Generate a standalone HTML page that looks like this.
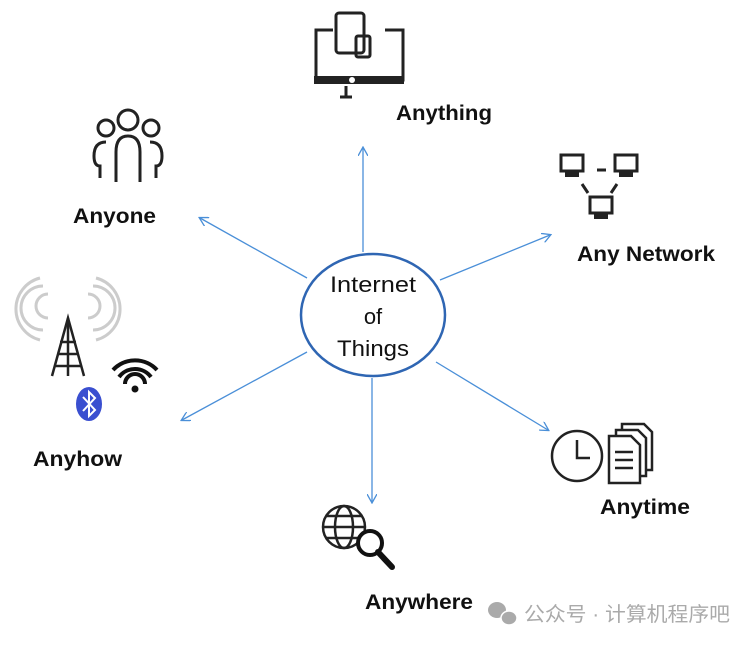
<!DOCTYPE html>
<html><head><meta charset="utf-8"><style>
body{margin:0;background:#fff;width:754px;height:645px;overflow:hidden}
svg{display:block}
text{font-family:"Liberation Sans",sans-serif;fill:#111}
</style></head><body>
<svg width="754" height="645" viewBox="0 0 754 645">
<defs><marker id="a" markerWidth="10" markerHeight="10" refX="8" refY="5" orient="auto" markerUnits="userSpaceOnUse"><path d="M0,0 L9,5 L0,10" fill="none" stroke="#4a8fd8" stroke-width="1.3"/></marker></defs>
<g stroke="#4a8fd8" stroke-width="1.3" fill="none" marker-end="url(#a)">
<line x1="363" y1="252" x2="363" y2="148"/>
<line x1="307" y1="278" x2="200" y2="218"/>
<line x1="440" y1="280" x2="550" y2="235"/>
<line x1="307" y1="352" x2="182" y2="420"/>
<line x1="436" y1="362" x2="548" y2="430"/>
<line x1="372" y1="378" x2="372" y2="502"/>
</g>
<ellipse cx="373" cy="315" rx="72" ry="61" fill="#fff" stroke="#2f66b3" stroke-width="2.5"/>
<g font-size="22" text-anchor="middle"><text x="373" y="292" textLength="86" lengthAdjust="spacingAndGlyphs">Internet</text><text x="373" y="324">of</text><text x="373" y="356" textLength="72" lengthAdjust="spacingAndGlyphs">Things</text></g>
<g font-size="21" font-weight="bold" fill="#222">
<text x="396" y="120" textLength="96" lengthAdjust="spacingAndGlyphs">Anything</text><text x="73" y="223" textLength="83" lengthAdjust="spacingAndGlyphs">Anyone</text><text x="577" y="261" textLength="138" lengthAdjust="spacingAndGlyphs">Any Network</text>
<text x="33" y="466" textLength="89" lengthAdjust="spacingAndGlyphs">Anyhow</text><text x="600" y="514" textLength="90" lengthAdjust="spacingAndGlyphs">Anytime</text><text x="365" y="609" textLength="108" lengthAdjust="spacingAndGlyphs">Anywhere</text></g>
<!-- anything icon -->
<g stroke="#222" stroke-width="3" fill="none">
<path d="M333,30 h-17 v50 h87 v-50 h-18"/><rect x="336" y="13" width="28" height="40" rx="3"/><rect x="356" y="36" width="14" height="21" rx="2"/>
<line x1="346" y1="86" x2="346" y2="96"/><line x1="340" y1="97" x2="352" y2="97"/></g>
<rect x="314" y="76" width="90" height="8" fill="#222"/><circle cx="352" cy="80" r="3" fill="#fff"/>
<!-- anyone icon -->
<g stroke="#222" stroke-width="3" fill="none">
<circle cx="128" cy="120" r="10"/><circle cx="106" cy="128" r="8"/><circle cx="151" cy="128" r="8"/>
<path d="M116,182 v-30 q0,-16 12,-16 q12,0 12,16 v30"/><path d="M100,178 v-12 q-6,0 -6,-10 q0,-14 12,-14"/><path d="M156,178 v-12 q6,0 6,-10 q0,-14 -12,-14"/></g>
<!-- network -->
<g stroke="#222" stroke-width="3" fill="none">
<rect x="561" y="155" width="22" height="16"/><rect x="615" y="155" width="22" height="16"/><rect x="590" y="197" width="22" height="16"/>
<line x1="597" y1="170" x2="606" y2="170"/><line x1="582" y1="184" x2="588" y2="193"/><line x1="617" y1="184" x2="611" y2="193"/></g>
<g fill="#222"><rect x="565" y="172" width="14" height="5"/><rect x="619" y="172" width="14" height="5"/><rect x="594" y="214" width="14" height="5"/></g>
<!-- anyhow -->
<g stroke="#ccc" stroke-width="3" fill="none">
<path d="M48,318 a12,12 0 0 1 0,-24 M88,318 a12,12 0 0 0 0,-24"/><path d="M43,330 a22,22 0 0 1 0,-44 M93,330 a22,22 0 0 0 0,-44"/><path d="M40,340 a32,32 0 0 1 0,-62 M96,340 a32,32 0 0 0 0,-62"/></g>
<g stroke="#222" stroke-width="2.5" fill="none"><path d="M52,376 L68,318 L84,376"/><line x1="60" y1="342" x2="76" y2="342"/><line x1="57" y1="354" x2="79" y2="354"/><line x1="55" y1="366" x2="81" y2="366"/><line x1="68" y1="318" x2="68" y2="376"/></g>
<g stroke="#111" stroke-width="4" fill="none"><path d="M113,370 a30,30 0 0 1 44,0"/><path d="M119,377 a20,20 0 0 1 32,0"/><path d="M125,384 a10,10 0 0 1 20,0"/></g>
<circle cx="135" cy="389" r="3.5" fill="#111"/>
<ellipse cx="89" cy="404" rx="13" ry="17" fill="#3a4fd0"/>
<path d="M83,397 L95,410 L89,416 L89,392 L95,398 L83,411" stroke="#fff" stroke-width="2" fill="none"/>
<!-- anytime -->
<circle cx="577" cy="456" r="25" fill="none" stroke="#222" stroke-width="2.5"/><path d="M577,440 V458 H590" stroke="#222" stroke-width="2.5" fill="none"/>
<g stroke="#222" stroke-width="2.5" fill="#fff"><path d="M622,424 h22 l8,8 v38 h-30z"/><path d="M616,430 h22 l8,8 v38 h-30z"/><path d="M609,436 h22 l9,9 v38 h-31z"/></g>
<g stroke="#222" stroke-width="2.5"><line x1="615" y1="452" x2="633" y2="452"/><line x1="615" y1="460" x2="633" y2="460"/><line x1="615" y1="468" x2="633" y2="468"/></g>
<!-- anywhere -->
<g stroke="#222" stroke-width="2.5" fill="none"><circle cx="344" cy="527" r="21"/><ellipse cx="344" cy="527" rx="9" ry="21"/><line x1="323" y1="527" x2="365" y2="527"/><line x1="326" y1="516" x2="362" y2="516"/><line x1="326" y1="538" x2="362" y2="538"/></g>
<circle cx="370" cy="543" r="12" fill="#fff" stroke="#111" stroke-width="4"/><line x1="378" y1="552" x2="392" y2="567" stroke="#111" stroke-width="6" stroke-linecap="round"/>
<!-- watermark -->
<ellipse cx="497" cy="610" rx="9" ry="8" fill="#aaa"/><ellipse cx="509" cy="618" rx="8" ry="7" fill="#aaa" stroke="#fff" stroke-width="1.5"/>
<text x="524" y="621" font-size="20" textLength="206" lengthAdjust="spacingAndGlyphs" style="fill:#aaa;font-family:'Liberation Sans','Noto Sans CJK SC',sans-serif">公众号 · 计算机程序吧</text>
</svg>
</body></html>
